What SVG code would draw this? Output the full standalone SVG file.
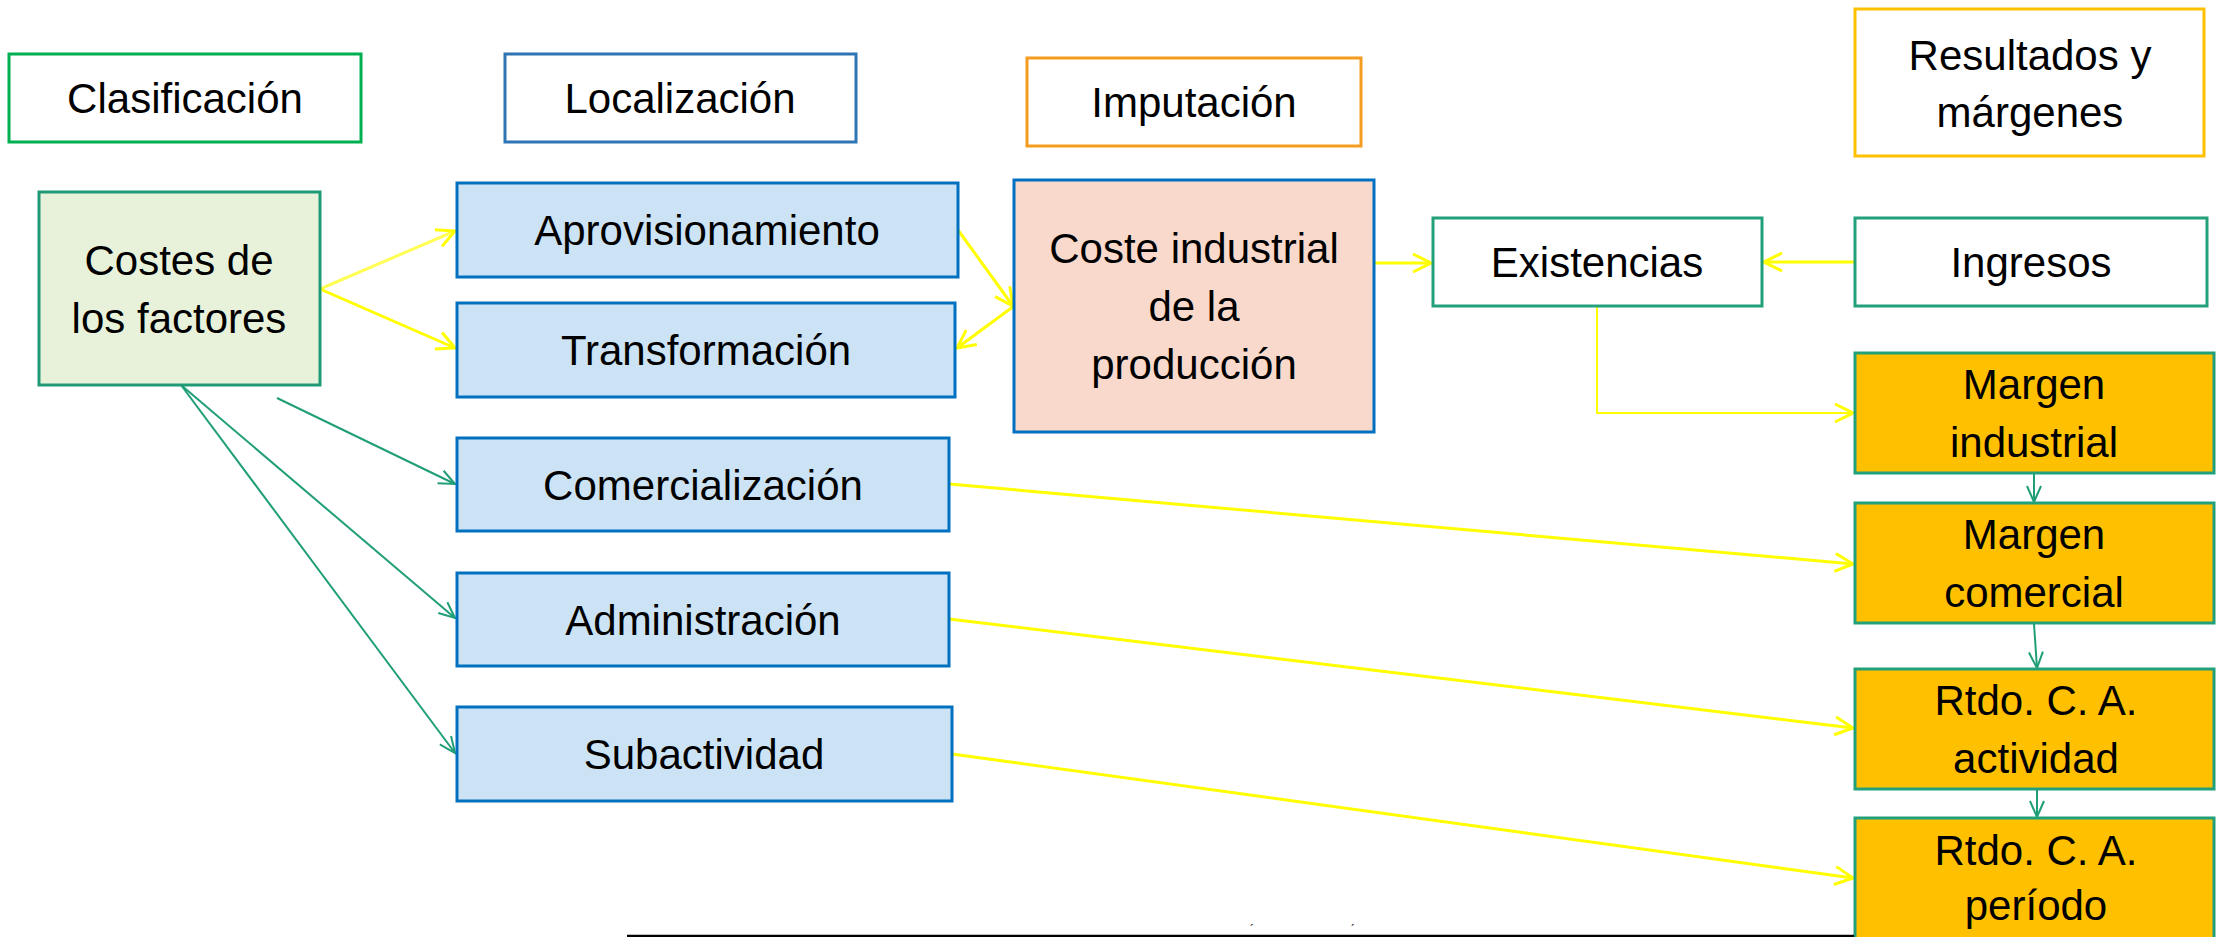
<svg xmlns="http://www.w3.org/2000/svg" width="2216" height="937" viewBox="0 0 2216 937">
<style>
.t{font-family:"Liberation Sans",Arial,sans-serif;font-size:42px;fill:#000;text-anchor:middle}
.blue{fill:#CCE3F5;stroke:#0070C0;stroke-width:3}
.gold{fill:#FFC000;stroke:#22A07A;stroke-width:3}
.hdr{fill:#fff;stroke-width:3}
.y{fill:none;stroke:#FFFF00;stroke-width:3;marker-end:url(#ay)}
.g{fill:none;stroke:#1F9E77;stroke-width:2;marker-end:url(#ag)}
</style>
<defs>
<marker id="ay" markerUnits="userSpaceOnUse" markerWidth="24" markerHeight="24" viewBox="0 0 24 24" refX="22" refY="12" orient="auto">
<path d="M4,3 L22,12 L4,21" fill="none" stroke="#FFFF00" stroke-width="3"/>
</marker>
<marker id="ag" markerUnits="userSpaceOnUse" markerWidth="24" markerHeight="24" viewBox="0 0 24 24" refX="22" refY="12" orient="auto">
<path d="M6,5 L22,12 L6,19" fill="none" stroke="#1F9E77" stroke-width="2"/>
</marker>
</defs>
<rect width="2216" height="937" fill="#fff"/>

<g id="connectors">
<line class="g" x1="277" y1="398" x2="455" y2="484"/>
<line class="g" x1="181" y1="385" x2="455" y2="618"/>
<line class="g" x1="181" y1="385" x2="455" y2="753"/>
<line class="y" x1="320" y1="289" x2="455" y2="231" style="stroke:#FFFF55"/>
<line class="y" x1="320" y1="289" x2="455" y2="348"/>
<line class="y" x1="958" y1="230" x2="1013" y2="306"/>
<line class="y" x1="1014" y1="306" x2="957" y2="348"/>
<line class="y" x1="1374" y1="263" x2="1431" y2="263"/>
<line class="y" x1="1855" y1="262" x2="1764" y2="262"/>
<polyline class="y" points="1597,306 1597,413 1853,413" style="stroke-width:2"/>
<line class="y" x1="949" y1="484" x2="1853" y2="564"/>
<line class="y" x1="949" y1="619" x2="1853" y2="728"/>
<line class="y" x1="952" y1="754" x2="1853" y2="878"/>
<line class="g" x1="2034" y1="474" x2="2034" y2="502"/>
<line class="g" x1="2034" y1="624" x2="2037" y2="668"/>
<line class="g" x1="2037" y1="790" x2="2037" y2="817"/>
</g>

<g id="clasificacion"><rect class="hdr" x="9" y="54" width="352" height="88" stroke="#00B050"/><text class="t" x="185" y="113">Clasificación</text></g>
<g id="localizacion"><rect class="hdr" x="505" y="54" width="351" height="88" stroke="#2E75B6"/><text class="t" x="680" y="113">Localización</text></g>
<g id="imputacion"><rect class="hdr" x="1027" y="58" width="334" height="88" stroke="#F49C1F"/><text class="t" x="1194" y="117">Imputación</text></g>
<g id="resultados"><rect class="hdr" x="1855" y="9" width="349" height="147" stroke="#FFC000"/><text class="t" x="2030" y="70">Resultados y</text><text class="t" x="2030" y="127">márgenes</text></g>

<g id="costes"><rect x="39" y="192" width="281" height="193" fill="#E8F2DA" stroke="#1E9B76" stroke-width="3"/><text class="t" x="179" y="275">Costes de</text><text class="t" x="179" y="333">los factores</text></g>

<g id="aprovisionamiento"><rect class="blue" x="457" y="183" width="501" height="94"/><text class="t" x="707" y="245">Aprovisionamiento</text></g>
<g id="transformacion"><rect class="blue" x="457" y="303" width="498" height="94"/><text class="t" x="706" y="365">Transformación</text></g>
<g id="comercializacion"><rect class="blue" x="457" y="438" width="492" height="93"/><text class="t" x="703" y="500">Comercialización</text></g>
<g id="administracion"><rect class="blue" x="457" y="573" width="492" height="93"/><text class="t" x="703" y="635">Administración</text></g>
<g id="subactividad"><rect class="blue" x="457" y="707" width="495" height="94"/><text class="t" x="704" y="769">Subactividad</text></g>

<g id="coste-industrial"><rect x="1014" y="180" width="360" height="252" fill="#F8D9CC" stroke="#0070C0" stroke-width="3"/><text class="t" x="1194" y="263">Coste industrial</text><text class="t" x="1194" y="321">de la</text><text class="t" x="1194" y="379">producción</text></g>

<g id="existencias"><rect x="1433" y="218" width="329" height="88" fill="#fff" stroke="#22A07A" stroke-width="3"/><text class="t" x="1597" y="277">Existencias</text></g>
<g id="ingresos"><rect x="1855" y="218" width="352" height="88" fill="#fff" stroke="#22A07A" stroke-width="3"/><text class="t" x="2031" y="277">Ingresos</text></g>

<g id="margen-industrial"><rect class="gold" x="1855" y="353" width="359" height="120"/><text class="t" x="2034" y="399">Margen</text><text class="t" x="2034" y="457">industrial</text></g>
<g id="margen-comercial"><rect class="gold" x="1855" y="503" width="359" height="120"/><text class="t" x="2034" y="549">Margen</text><text class="t" x="2034" y="607">comercial</text></g>
<g id="rtdo-actividad"><rect class="gold" x="1855" y="669" width="359" height="120"/><text class="t" x="2036" y="715">Rtdo. C. A.</text><text class="t" x="2036" y="773">actividad</text></g>
<g id="rtdo-periodo"><rect class="gold" x="1855" y="818" width="359" height="130"/><text class="t" x="2036" y="865">Rtdo. C. A.</text><text class="t" x="2036" y="920">período</text></g>

<g id="footer">
<line x1="627" y1="936" x2="1854" y2="936" stroke="#000" stroke-width="2.5"/>
<text class="t" x="1252" y="934" style="font-size:12px">´</text>
<text class="t" x="1353" y="934" style="font-size:12px">´</text>
</g>
</svg>
